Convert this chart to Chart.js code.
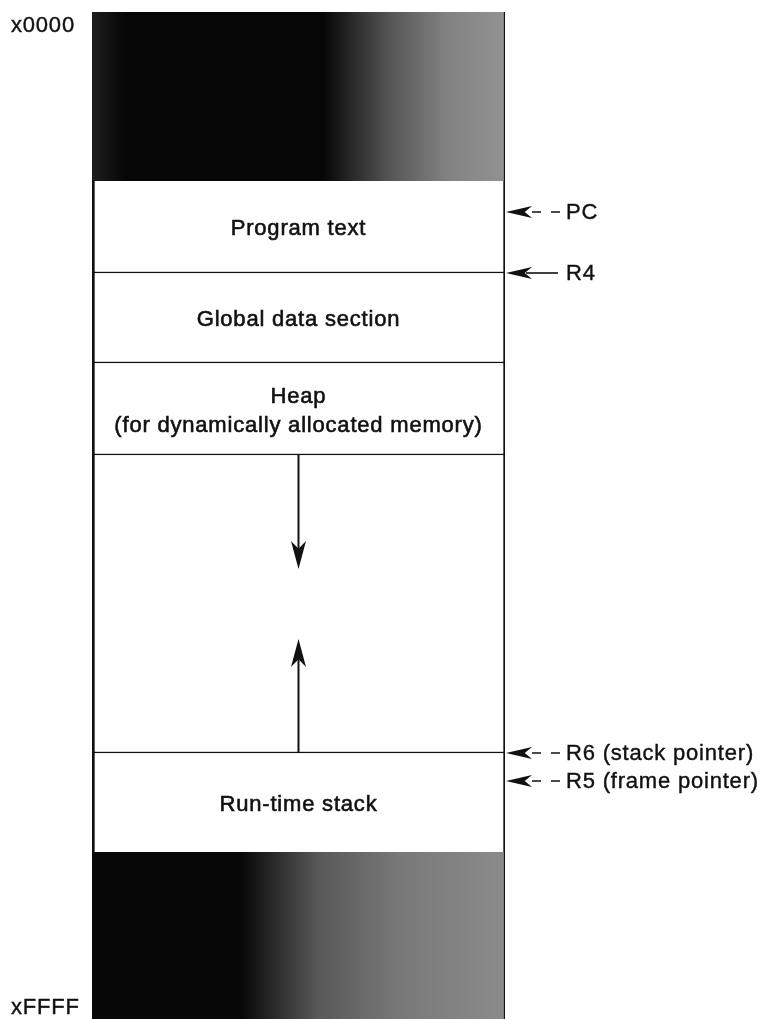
<!DOCTYPE html>
<html>
<head>
<meta charset="utf-8">
<script src="https://cdn.jsdelivr.net/npm/chart.js@4.4.1/dist/chart.umd.min.js"></script>
<style>
  html, body { margin: 0; padding: 0; background: #fff; }
  #wrap { width: 765px; height: 1019px; position: relative; }
</style>
</head>
<body>
<div id="wrap"><canvas id="memChart" width="765" height="1019"></canvas></div>
<script>
// memory segments, from address x0000 (top) down to xFFFF (bottom)
// units are just "rows" of the drawing, the picture is not to scale
const segmentNames = ['', 'Program text', 'Global data section', 'Heap\n(for dynamically allocated memory)', '', 'Run-time stack', ''];
const segmentStart = [0, 169, 261, 351, 443, 741, 840];
const segmentEnd   = [169, 261, 351, 443, 741, 840, 1007];
const segmentShaded = [true, false, false, false, false, false, true];

const addressLabels = ['x0000', 'xFFFF'];
const addressValues = [0, 1007];

// registers pointing into memory (right side)
const pointerLabels = ['PC', 'R4', 'R6 (stack pointer)', 'R5 (frame pointer)'];
const pointerValues = [200, 261, 741, 769];
const pointerDashed = [true, false, true, true];

// heap grows down, stack grows up
const growthFrom = [443, 741];
const growthTo   = [557, 627];

const FONT = '22px "Liberation Sans", Arial, sans-serif';

// dark noisy blocks -> horizontal gradient black to grey
function shade(context, i) {
    const area = context.chart.chartArea;
    if (!area) return '#222';
    const g = context.chart.ctx.createLinearGradient(area.left, 0, area.right, 0);
    if (i === 0) {
        g.addColorStop(0, '#1e1e1e');
        g.addColorStop(0.08, '#060606');
        g.addColorStop(0.56, '#060606');
        g.addColorStop(0.72, '#555555');
        g.addColorStop(0.86, '#828282');
        g.addColorStop(1, '#929292');
    } else {
        g.addColorStop(0, '#070707');
        g.addColorStop(0.36, '#070707');
        g.addColorStop(0.55, '#595959');
        g.addColorStop(0.75, '#797979');
        g.addColorStop(1, '#8b8b8b');
    }
    return g;
}

const datasets = segmentNames.map((name, i) => ({
    label: name,
    data: [[segmentStart[i], segmentEnd[i]]],
    backgroundColor: segmentShaded[i] ? (c) => shade(c, i) : '#ffffff',
    borderColor: '#111',
    borderWidth: segmentShaded[i]
        ? { top: 0, bottom: 0, left: 0, right: 1.5 }
        : { top: 0, bottom: i === 5 ? 0 : 1.5, left: 3, right: 2 },
    borderSkipped: false,
    grouped: false,
    barPercentage: 1,
    categoryPercentage: 1
}));

function arrowHead(ctx, x, y, dx, dy, len, half) {
    // barbed arrow head, tip at (x,y), pointing in direction (dx,dy)
    const px = -dy, py = dx;
    ctx.beginPath();
    ctx.moveTo(x, y);
    ctx.lineTo(x - dx * len + px * half, y - dy * len + py * half);
    ctx.lineTo(x - dx * len * 0.72, y - dy * len * 0.72);
    ctx.lineTo(x - dx * len - px * half, y - dy * len - py * half);
    ctx.closePath();
    ctx.fill();
}

function boldText(ctx, txt, x, y) {
    ctx.fillText(txt, x, y);
    ctx.strokeText(txt, x, y);
}

const diagramPlugin = {
    id: 'diagram',
    afterDatasetsDraw(chart) {
        const { ctx, chartArea } = chart;
        const y = chart.scales.y;
        const midX = (chartArea.left + chartArea.right) / 2;

        ctx.save();
        ctx.fillStyle = '#111';
        ctx.strokeStyle = '#111';
        ctx.font = FONT;
        ctx.letterSpacing = '0.8px';
        ctx.textBaseline = 'middle';

        // segment names
        ctx.textAlign = 'center';
        ctx.lineWidth = 0.6;
        segmentNames.forEach((name, i) => {
            if (!name) return;
            const lines = name.split('\n');
            const mid = y.getPixelForValue((segmentStart[i] + segmentEnd[i]) / 2);
            const lh = 29;
            lines.forEach((ln, k) => {
                const yy = mid + (k - (lines.length - 1) / 2) * lh + 2;
                boldText(ctx, ln, midX, yy);
            });
        });

        // growth arrows
        ctx.lineWidth = 2;
        growthFrom.forEach((from, i) => {
            const y0 = y.getPixelForValue(from);
            const y1 = y.getPixelForValue(growthTo[i]);
            const dir = y1 > y0 ? 1 : -1;
            ctx.beginPath();
            ctx.moveTo(midX, y0);
            ctx.lineTo(midX, y1 - dir * 10);
            ctx.stroke();
            arrowHead(ctx, midX, y1, 0, dir, 28, 7.5);
        });

        // register pointers
        ctx.textAlign = 'left';
        const tipX = chartArea.right + 1;
        pointerLabels.forEach((lab, i) => {
            const py = y.getPixelForValue(pointerValues[i]);
            arrowHead(ctx, tipX, py, -1, 0, 26, 6);
            ctx.lineWidth = 1.6;
            ctx.beginPath();
            if (pointerDashed[i]) {
                ctx.setLineDash([9, 10]);
                ctx.moveTo(tipX + 26, py);
                ctx.lineTo(tipX + 54, py);
            } else {
                ctx.setLineDash([]);
                ctx.moveTo(tipX + 20, py);
                ctx.lineTo(tipX + 52, py);
            }
            ctx.stroke();
            ctx.setLineDash([]);
            ctx.lineWidth = 0.4;
            boldText(ctx, lab, tipX + 60, py + 1);
        });

        // address labels on the left
        addressLabels.forEach((lab, i) => {
            const ay = y.getPixelForValue(addressValues[i]);
            ctx.textBaseline = i === 0 ? 'top' : 'bottom';
            boldText(ctx, lab, 11, i === 0 ? ay + 3 : ay);
        });
        ctx.restore();
    }
};

new Chart(document.getElementById('memChart'), {
    type: 'bar',
    data: { labels: ['memory'], datasets: datasets },
    options: {
        responsive: false,
        animation: false,
        layout: { padding: { left: 92, right: 260, top: 12, bottom: 0 } },
        plugins: { legend: { display: false }, tooltip: { enabled: false } },
        scales: {
            x: { display: false },
            y: { display: false, reverse: true, min: 0, max: 1007 }
        }
    },
    plugins: [diagramPlugin]
});
</script>
</body>
</html>
